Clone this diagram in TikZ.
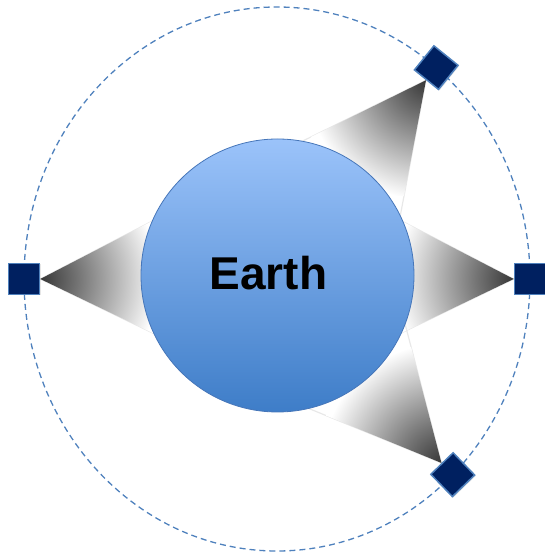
\documentclass[tikz,border=0pt]{standalone}
\usepackage{fontspec}
\setmainfont{Liberation Sans}
\usetikzlibrary{calc, shadows, backgrounds}

\definecolor{orbitblue}{RGB}{79,129,189}
\definecolor{satnavy}{RGB}{0,32,96}
\definecolor{earthtop}{RGB}{155,195,250}
\definecolor{earthbot}{RGB}{62,125,200}
\definecolor{earthline}{RGB}{70,118,185}
\definecolor{conedark}{RGB}{55,55,55}

% fade of the view cones: dark at the satellite, white further away
\pgfdeclareradialshading{conefade}{\pgfpoint{0bp}{0bp}}{color(0bp)=(conedark); color(8bp)=(black!55); color(26bp)=(white); color(50bp)=(white)}

\begin{document}
\begin{tikzpicture}[x=1pt, y=1pt,
        % Style for the satellites
        satbox/.style={rectangle, draw=orbitblue, line width=1.5pt, fill=satnavy, minimum size=31pt, inner sep=0pt, drop shadow={shadow xshift=1pt, shadow yshift=-1pt, opacity=0.2}},
        % Style for the earth
        earthball/.style={circle, draw=earthline, line width=0.8pt, top color=earthtop, bottom color=earthbot, minimum size=273pt, inner sep=0pt},
        orbitline/.style={draw=orbitblue, line width=1.3pt, dash pattern=on 6pt off 4pt},
        viewcone/.style={shading=conefade},
        coneedge/.style={draw=black!9, line width=1.2pt, line join=round}
    ]
    \useasboundingbox (0,0) rectangle (545,556);

    % --- ORBIT ---
    \coordinate (orbitc) at (277,277);
    \draw[orbitline] (orbitc) ellipse [x radius=253pt, y radius=272pt];

    % --- EARTH ---
    \node (earth) [earthball] at (277.5,280.5) {};
    \node (earthlabel) [font=\bfseries\fontsize{46}{50}\selectfont, anchor=base] at ([xshift=-9pt, yshift=-14.5pt]earth.center) {Earth};

    % --- SATELLITES ---
    \foreach \nm/\ang in {W/180, E/0, N/51, S/-46}
        \node (sat\nm) [satbox, rotate=\ang] at ($(orbitc)+(\ang:253pt and 272pt)$) {};

    % --- VIEW CONES ---
    \begin{scope}[on background layer]
        \foreach \nm in {W, E, N, S} {
            \draw[coneedge] (sat\nm.west) -- ($(sat\nm.west)!1!26.5:(earth.center)$) -- ($(sat\nm.west)!1!-26.5:(earth.center)$) -- cycle;
            \begin{scope}
                \clip (sat\nm.west) -- ($(sat\nm.west)!1!26.5:(earth.center)$) -- ($(sat\nm.west)!1!-26.5:(earth.center)$) -- cycle;
                \shade[viewcone] ([shift={(-115,-115)}]sat\nm.west) rectangle ([shift={(115,115)}]sat\nm.west);
            \end{scope}
        }
    \end{scope}

\end{tikzpicture}
\end{document}
